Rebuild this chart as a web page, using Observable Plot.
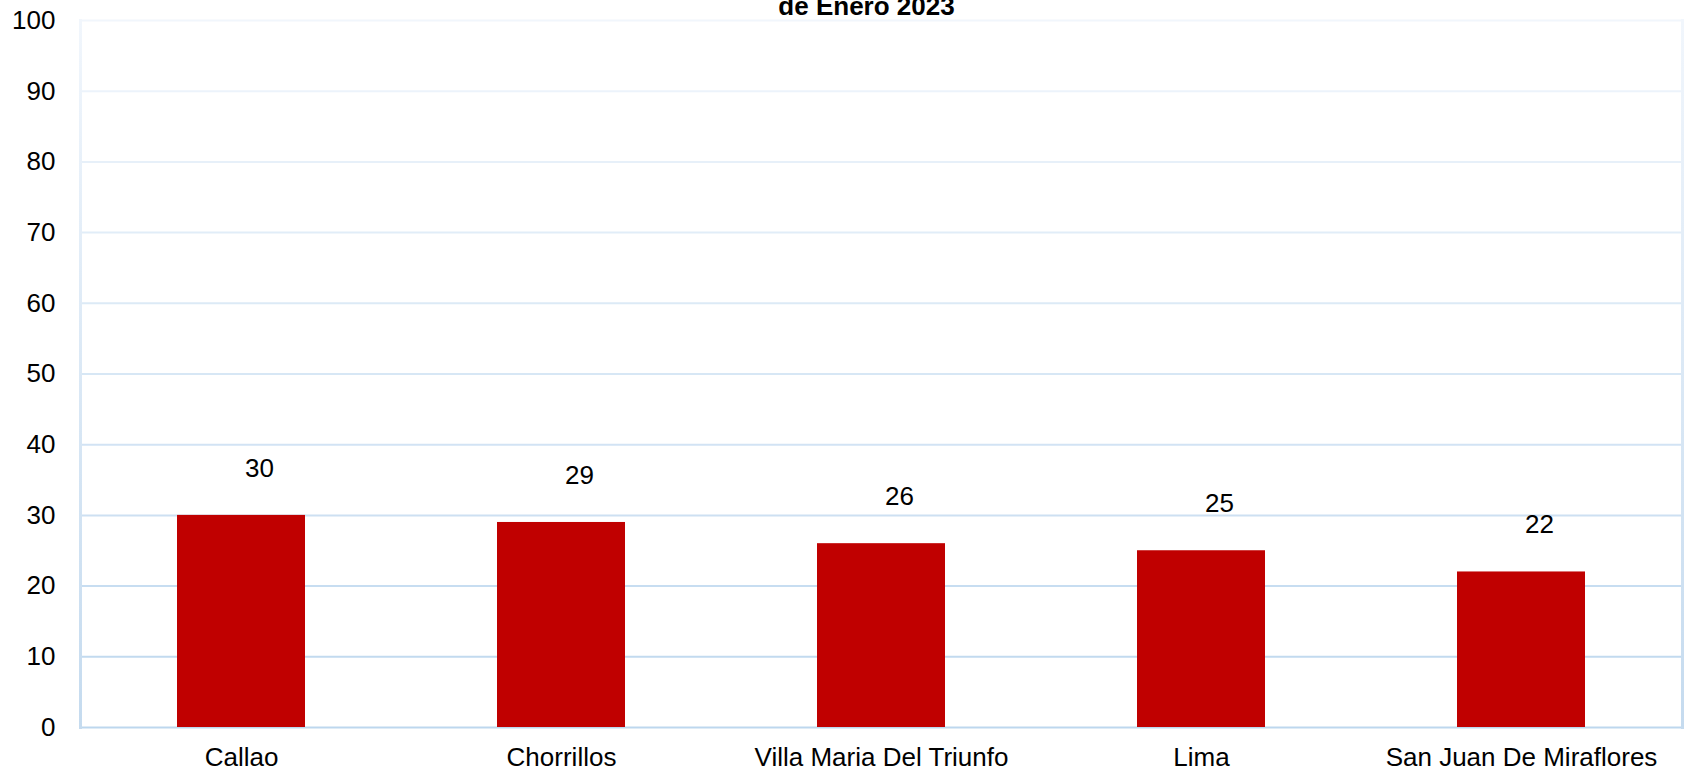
<!DOCTYPE html>
<html>
<head>
<meta charset="utf-8">
<script src="https://cdn.jsdelivr.net/npm/d3@7"></script>
<script src="https://cdn.jsdelivr.net/npm/@observablehq/plot@0.6"></script>
<style>
  html, body { margin: 0; padding: 0; background: #fff; }
  #chart svg { display: block; }
</style>
</head>
<body>
<div id="chart"></div>
<script>
const categories = ["Callao", "Chorrillos", "Villa Maria Del Triunfo", "Lima", "San Juan De Miraflores"];
const values = [30, 29, 26, 25, 22];
const yTicks = [0, 10, 20, 30, 40, 50, 60, 70, 80, 90, 100];
const titleText = "de Enero 2023";

const data = categories.map((name, i) => ({name, value: values[i]}));
const gridColor = d3.interpolateRgb("#bdd7ee", "#f1f6fc");

const defsMark = (index, scales, values, dims) => {
  const g = d3.create("svg:g");
  const grad = g.append("defs").append("linearGradient")
    .attr("id", "borderGrad")
    .attr("gradientUnits", "userSpaceOnUse")
    .attr("x1", 0).attr("x2", 0)
    .attr("y1", dims.marginTop)
    .attr("y2", dims.height - dims.marginBottom);
  grad.append("stop").attr("offset", 0).attr("stop-color", "#f1f6fc");
  grad.append("stop").attr("offset", 1).attr("stop-color", "#c5dbef");
  return g.node();
};

const chart = Plot.plot({
  width: 1684,
  height: 772,
  marginLeft: 80,
  marginRight: 2,
  marginTop: 20,
  marginBottom: 45,
  style: {fontFamily: "'Liberation Sans', Arial, sans-serif", fontSize: "26px", color: "#000", background: "#fff"},
  x: {domain: categories, paddingInner: 0.6, paddingOuter: 0.3, label: null},
  y: {domain: [0, 100], label: null},
  marks: [
    defsMark,
    Plot.ruleY(yTicks, {y: d => d, stroke: d => gridColor(d / 100), strokeWidth: 2}),
    Plot.frame({anchor: "left", stroke: "url(#borderGrad)", strokeWidth: 3}),
    Plot.frame({anchor: "right", stroke: "url(#borderGrad)", strokeWidth: 3}),
    Plot.barY(data, {x: "name", y: "value", fill: "#c00000"}),
    Plot.text(data, {x: "name", y: "value", text: d => String(d.value), dx: 18, dy: -47, lineAnchor: "middle", fill: "#000", fontSize: 26}),
    Plot.axisY({ticks: yTicks, tickSize: 0, tickPadding: 25, label: null, fontSize: 26}),
    Plot.axisX({tickSize: 0, tickPadding: 20, label: null, fontSize: 26}),
    Plot.text([titleText], {frameAnchor: "top", text: d => d, dx: -15, dy: -6, lineAnchor: "bottom", fontWeight: "bold", fontSize: 26, fill: "#000"})
  ]
});
document.getElementById("chart").appendChild(chart);
</script>
</body>
</html>
